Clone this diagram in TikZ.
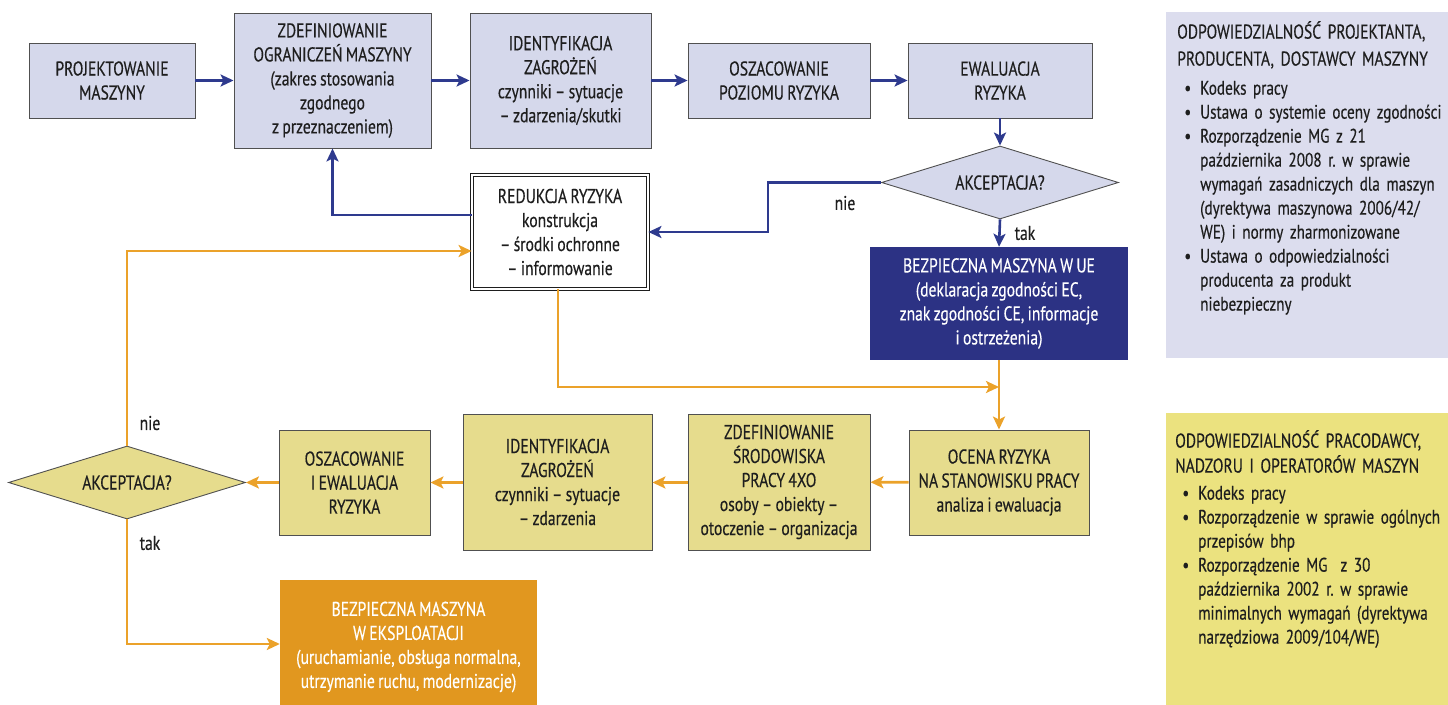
\documentclass[tikz,border=0pt]{standalone}
\usepackage{fontspec}
\setmainfont[FakeStretch=0.78,FakeBold=0.35,WordSpace=0.8]{PT Sans}
\frenchspacing
\usetikzlibrary{shapes.geometric,arrows.meta}
\definecolor{boxblue}{HTML}{D5D8EB}
\definecolor{panelblue}{HTML}{DCDDEE}
\definecolor{boxyellow}{HTML}{E6DC8D}
\definecolor{panelyellow}{HTML}{EBE27F}
\definecolor{darkbox}{HTML}{2C3284}
\definecolor{orangebox}{HTML}{E1971F}
\definecolor{lineblue}{HTML}{2E3A8E}
\definecolor{lineorange}{HTML}{EBA22A}
\definecolor{edge}{HTML}{505050}
\definecolor{txt}{HTML}{1E1E1E}
\newenvironment{plist}{\begin{list}{\textbullet}{\setlength\leftmargin{23pt}\setlength\labelsep{9pt}\setlength\itemsep{0pt}\setlength\topsep{0pt}\setlength\parsep{0pt}\setlength\partopsep{0pt}\setlength\itemindent{0pt}}}{\end{list}}
\begin{document}
\begin{tikzpicture}[x=1pt,y=-1pt,
  every node/.style={font=\fontsize{20}{24}\selectfont, text=txt},
  bbox/.style={draw=edge, line width=0.9pt, fill=boxblue, align=center, inner sep=0pt},
  ybox/.style={draw=edge, line width=0.9pt, fill=boxyellow, align=center, inner sep=0pt},
  dbox/.style={draw=none, fill=darkbox, align=center, inner sep=0pt, text=white},
  obox/.style={draw=none, fill=orangebox, align=center, inner sep=0pt, text=white},
  decis/.style={diamond, draw=edge, line width=0.9pt, shape aspect=3.2, inner sep=0pt, minimum width=237, minimum height=73},
  barrow/.style={draw=lineblue, line width=2.6pt, -{Stealth[length=13pt,width=12pt,inset=3pt]}},
  oarrow/.style={draw=lineorange, line width=2.6pt, -{Stealth[length=13pt,width=12pt,inset=3pt]}},
  lbl/.style={inner sep=0pt},
  paneltext/.style={anchor=north west, align=left, text width=272pt, inner sep=0pt, font=\fontsize{19.5}{24}\selectfont}
]
\useasboundingbox (0,0) rectangle (1448,704);

% right panels
\node[fill=panelblue, minimum width=282, minimum height=346, inner sep=0pt, anchor=north west] (p1) at (1166,12) {};
\node[fill=panelyellow, minimum width=282, minimum height=300, inner sep=0pt, anchor=north west] (p2) at (1166,413) {};

\node[paneltext] (t1) at (1177,21) {{\fontsize{20}{27}\selectfont ODPOWIEDZIALNOŚĆ PROJEKTANTA,\newline PRODUCENTA, DOSTAWCY MASZYNY\par}\vspace{5pt}
\begin{plist}
\item Kodeks pracy
\item Ustawa o systemie oceny zgodności
\item Rozporządzenie MG z 21\newline października 2008 r. w sprawie\newline wymagań zasadniczych dla maszyn\newline (dyrektywa maszynowa 2006/42/\newline WE) i normy zharmonizowane
\item Ustawa o odpowiedzialności\newline producenta za produkt\newline niebezpieczny
\end{plist}};

\node[paneltext] (t2) at (1175,430) {{\fontsize{20}{25}\selectfont ODPOWIEDZIALNOŚĆ PRACODAWCY,\newline NADZORU I OPERATORÓW MASZYN\par}\vspace{3pt}
\begin{plist}
\item Kodeks pracy
\item Rozporządzenie w sprawie ogólnych\newline przepisów bhp
\item Rozporządzenie MG\ \ z 30\newline października 2002 r. w sprawie\newline minimalnych wymagań (dyrektywa\newline narzędziowa 2009/104/WE)
\end{plist}};

% top row
\node[bbox, minimum width=166, minimum height=75] (proj) at (112,80.5) {PROJEKTOWANIE\\MASZYNY};
\node[bbox, minimum width=197, minimum height=135] (zdef) at (332.5,80.5) {ZDEFINIOWANIE\\OGRANICZEŃ MASZYNY\\(zakres stosowania\\zgodnego\\z przeznaczeniem)};
\node[bbox, minimum width=181, minimum height=135] (ident) at (560.5,80.5) {IDENTYFIKACJA\\ZAGROŻEŃ\\czynniki – sytuacje\\– zdarzenia/skutki};
\node[bbox, minimum width=182, minimum height=75] (osz) at (779,80.5) {OSZACOWANIE\\POZIOMU RYZYKA};
\node[bbox, minimum width=184, minimum height=75] (ewal) at (1000,80.5) {EWALUACJA\\RYZYKA};

\node[decis, fill=boxblue] (d1) at (1000,182.5) {AKCEPTACJA?};

\node[draw=txt, line width=0.8pt, double=white, double distance=2.2pt, fill=white, align=center, inner sep=0pt, minimum width=176, minimum height=114] (red) at (560,232) {REDUKCJA RYZYKA\\konstrukcja\\– środki ochronne\\– informowanie};

\node[dbox, minimum width=258, minimum height=113] (ue) at (999,303.5) {BEZPIECZNA MASZYNA W UE\\(deklaracja zgodności EC,\\znak zgodności CE, informacje\\i ostrzeżenia)};

% bottom row
\node[ybox, minimum width=180, minimum height=105] (ocena) at (999,482.5) {OCENA RYZYKA\\NA STANOWISKU PRACY\\analiza i ewaluacja};
\node[ybox, minimum width=182, minimum height=136] (srod) at (779,482) {ZDEFINIOWANIE\\ŚRODOWISKA\\PRACY 4XO\\osoby – obiekty –\\otoczenie – organizacja};
\node[ybox, minimum width=189, minimum height=136] (ident2) at (557.5,482) {IDENTYFIKACJA\\ZAGROŻEŃ\\czynniki – sytuacje\\– zdarzenia};
\node[ybox, minimum width=151, minimum height=105] (oszew) at (354.5,482.5) {OSZACOWANIE\\I EWALUACJA\\RYZYKA};
\node[decis, fill=boxyellow] (d2) at (127,482.5) {AKCEPTACJA?};

\node[obox, minimum width=257, minimum height=134] (eksp) at (408.5,647) {BEZPIECZNA MASZYNA\\W EKSPLOATACJI\\(uruchamianie, obsługa normalna,\\utrzymanie ruchu, modernizacje)};

% labels
\node[lbl] (l1) at (845,203) {nie};
\node[lbl] (l2) at (1025,233) {tak};
\node[lbl] (l3) at (150,423) {nie};
\node[lbl] (l4) at (150,543) {tak};

% blue connectors
\draw[barrow] (proj) -- (zdef);
\draw[barrow] (zdef.east |- 0,80.5) -- (ident.west |- 0,80.5);
\draw[barrow] (ident.east |- 0,80.5) -- (osz.west |- 0,80.5);
\draw[barrow] (osz) -- (ewal);
\draw[barrow] (ewal) -- (d1);
\draw[barrow] (d1.west) -- ++(-113,0) |- (red.east);
\draw[barrow] (red.west |- 0,215) -| (zdef.south);
\draw[barrow] (d1.south) -- (ue.north);

% orange connectors
\draw[oarrow] (d2.north) |- (red.west |- 0,251);
\draw[oarrow] (red.south -| 558,0) |- (ocena.north |- 0,387);
\draw[oarrow] (ue.south) -- (ocena.north);
\draw[oarrow] (ocena) -- (srod);
\draw[oarrow] (srod.west |- 0,482.5) -- (ident2.east |- 0,482.5);
\draw[oarrow] (ident2.west |- 0,482.5) -- (oszew.east |- 0,482.5);
\draw[oarrow] (oszew) -- (d2);
\draw[oarrow] (d2.south) |- (eksp.west |- 0,644);
\end{tikzpicture}
\end{document}
